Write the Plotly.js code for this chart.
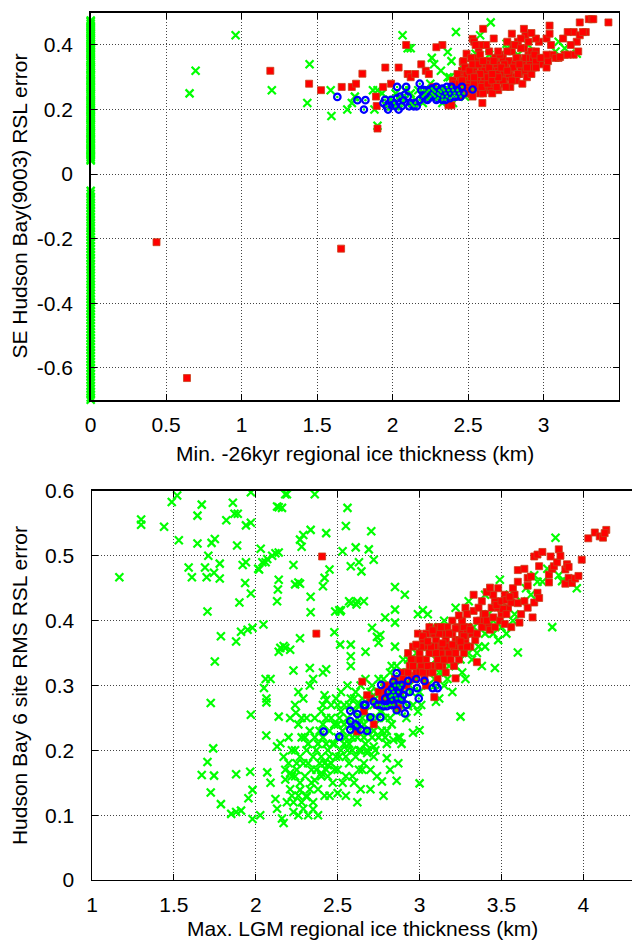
<!DOCTYPE html>
<html><head><meta charset="utf-8">
<script src="https://cdn.plot.ly/plotly-3.0.1.min.js"></script>
<style>html,body{margin:0;padding:0;background:#fff}#chart{width:632px;height:942px}</style>
</head><body><div id="chart"></div>
<script>
// ---------- tick labels ----------
const topXTicks=[0,0.5,1,1.5,2,2.5,3,3.5];
const topXTickText=["0","0.5","1","1.5","2","2.5","3","3.5"];
const topYTicks=[-0.6,-0.4,-0.2,0,0.2,0.4];
const topYTickText=["-0.6","-0.4","-0.2","0","0.2","0.4"];
const botXTicks=[1,1.5,2,2.5,3,3.5,4];
const botXTickText=["1","1.5","2","2.5","3","3.5","4"];
const botYTicks=[0,0.1,0.2,0.3,0.4,0.5,0.6];
const botYTickText=["0","0.1","0.2","0.3","0.4","0.5","0.6"];

const topXTitle="Min. -26kyr regional ice thickness (km)";
const topYTitle="SE Hudson Bay(9003) RSL error";
const botXTitle="Max. LGM regional ice thickness (km)";
const botYTitle="Hudson Bay 6 site RMS RSL error";

// ---------- top panel data ----------
// green models with zero minimum ice thickness (x = 0)
const topGreenZeroY=[0.042,0.047,0.053,0.058,0.064,0.07,0.075,0.081,0.088,0.093,0.099,0.106,0.111,0.117,0.124,0.129,0.135,0.141,0.148,0.153,0.159,0.166,0.172,0.177,0.183,0.19,0.196,0.201,0.207,0.214,0.22,0.226,0.231,0.238,0.244,0.249,0.255,0.262,0.268,0.273,0.279,0.286,0.291,0.297,0.304,0.309,0.315,0.322,0.327,0.333,0.339,0.346,0.351,0.357,0.364,0.37,0.375,0.381,0.388,0.394,0.399,0.405,0.412,0.418,0.423,0.429,0.436,0.441,0.447,0.453,0.459,0.465,0.471,0.476,
-0.052,-0.061,-0.07,-0.078,-0.088,-0.097,-0.105,-0.114,-0.124,-0.133,-0.141,-0.15,-0.16,-0.168,-0.177,-0.186,-0.195,-0.204,-0.213,-0.223,-0.232,-0.241,-0.25,-0.26,-0.268,-0.278,-0.287,-0.296,-0.305,-0.314,-0.324,-0.333,-0.342,-0.351,-0.36,-0.37,-0.379,-0.388,-0.397,-0.406,-0.416,-0.425,-0.434,-0.443,-0.452,-0.462,-0.471,-0.48,-0.49,-0.499,-0.508,-0.517,-0.527,-0.536,-0.545,-0.554,-0.563,-0.573,-0.582,-0.591,-0.6,-0.61,-0.619,-0.628,-0.637,-0.646,-0.656,-0.665,-0.674,-0.683,-0.692,-0.699];
const topGreen=[[0.96,0.43],[0.695,0.32],[0.655,0.25],[1.20,0.26],[1.45,0.34],[1.435,0.22],[1.595,0.18],[1.59,0.26],[1.70,0.20],[1.73,0.22],[1.75,0.24],[1.87,0.26],[1.90,0.26],[1.88,0.20],[1.90,0.15],[1.93,0.25],[1.98,0.23],[2.0,0.21],[2.02,0.25],[2.06,0.22],[2.066,0.43],[2.10,0.39],[2.12,0.39],[2.08,0.26],[2.12,0.25],[2.15,0.23],[2.17,0.26],[2.2,0.22],[2.26,0.36],[2.275,0.34],[2.32,0.32],[2.365,0.30],[2.365,0.378],[2.39,0.35],[2.38,0.30],[2.42,0.44],[2.33,0.22],[2.40,0.22],[2.47,0.34],[2.48,0.24],[2.545,0.36],[2.55,0.373],[2.58,0.43],[2.65,0.47],[2.64,0.37],[2.70,0.36],[2.755,0.404],[2.76,0.39],[2.83,0.37],[2.9,0.40],[3.08,0.38],[3.10,0.41],[3.14,0.39],[3.22,0.373],[2.5,0.30],[2.6,0.32],[2.8,0.33],[2.25,0.28],[2.28,0.26]];
const topRed=[[0.436,-0.211],[0.638,-0.632],[1.659,-0.231],[1.19,0.32],[1.447,0.28],[1.526,0.26],[1.663,0.27],[1.73,0.27],[1.758,0.28],[1.80,0.311],[1.895,0.211],[1.90,0.141],[1.89,0.24],[1.952,0.33],[2.04,0.33],[1.99,0.28],[1.937,0.27],[2.09,0.40],[2.10,0.31],[2.12,0.30],[2.15,0.31],[2.19,0.34],[2.22,0.32],[2.24,0.31],[2.33,0.40],[2.29,0.393],[2.27,0.27],[2.37,0.213],[2.39,0.213],[2.4,0.29],[2.41,0.28],[2.49,0.373],[2.465,0.347],[2.53,0.419],[2.60,0.45],[2.595,0.22],[2.57,0.389],
[2.42,0.26],[2.44,0.28],[2.45,0.30],[2.46,0.32],[2.47,0.27],[2.48,0.29],[2.49,0.31],[2.50,0.25],[2.50,0.33],[2.51,0.28],[2.52,0.30],[2.53,0.26],[2.54,0.32],[2.55,0.29],[2.55,0.34],[2.56,0.27],[2.57,0.31],[2.58,0.25],[2.58,0.29],[2.59,0.33],[2.60,0.28],[2.61,0.30],[2.62,0.26],[2.62,0.32],[2.63,0.35],[2.64,0.29],[2.65,0.27],[2.65,0.31],[2.66,0.33],[2.67,0.28],[2.68,0.30],[2.69,0.34],[2.70,0.26],[2.70,0.32],[2.71,0.29],[2.72,0.31],[2.73,0.36],[2.74,0.28],[2.75,0.33],[2.76,0.30],[2.77,0.35],[2.78,0.27],[2.78,0.32],[2.79,0.38],[2.80,0.30],[2.81,0.34],[2.82,0.29],[2.83,0.36],[2.84,0.31],[2.85,0.33],[2.86,0.28],[2.87,0.35],[2.88,0.32],[2.89,0.30],[2.90,0.37],[2.91,0.34],[2.92,0.31],[2.93,0.33],[2.47,0.35],[2.53,0.24],[2.60,0.25],[2.66,0.25],[2.74,0.34],[2.68,0.36],[2.62,0.34],[2.56,0.36],[2.45,0.26],[2.44,0.24],[2.52,0.36],[2.58,0.37],[2.64,0.38],[2.71,0.37],[2.76,0.38],[2.80,0.40],[2.87,0.39],
[2.43,0.31],[2.46,0.29],[2.48,0.33],[2.49,0.27],[2.51,0.32],[2.51,0.26],[2.53,0.34],[2.54,0.28],[2.56,0.30],[2.57,0.34],[2.59,0.27],[2.60,0.35],[2.61,0.32],[2.63,0.28],[2.63,0.30],[2.64,0.33],[2.66,0.29],[2.67,0.35],[2.69,0.27],[2.69,0.31],[2.72,0.33],[2.73,0.29],[2.75,0.27],[2.77,0.31],[2.79,0.29],[2.80,0.33],[2.82,0.36],[2.83,0.31],[2.86,0.34],[2.88,0.36],[2.89,0.33],[2.91,0.36],[2.70,0.30],[2.58,0.31],[2.54,0.30],[2.66,0.31],[2.76,0.32],[2.84,0.34],[2.92,0.38],[2.98,0.34],[3.0,0.36],[3.06,0.37],[3.10,0.36],[3.14,0.37],[3.20,0.37],[3.23,0.38],[3.28,0.44],[3.20,0.44],[2.97,0.41],[2.95,0.42],[2.88,0.43],[2.83,0.41],[2.76,0.41],[2.70,0.38],[2.62,0.40],[2.67,0.42],[2.58,0.40],
[2.79,0.435],[2.87,0.45],[2.92,0.437],[2.85,0.42],[2.90,0.41],[2.81,0.40],[2.85,0.39],[2.93,0.36],[2.95,0.38],[2.95,0.35],[2.94,0.37],[2.54,0.41],[2.55,0.40],[3.02,0.42],[3.04,0.435],[3.05,0.40],[3.04,0.46],[3.02,0.33],[3.03,0.35],[3.02,0.37],[3.08,0.36],[3.11,0.363],[3.16,0.37],[3.16,0.44],[3.13,0.42],[3.22,0.41],[3.24,0.43],[3.26,0.44],[3.24,0.47],[3.30,0.48],[3.32,0.48],[3.33,0.48],[3.43,0.47],[3.18,0.40],[2.95,0.33],[2.98,0.36]];
const topBlue=[[1.634,0.239],[1.767,0.229],[1.82,0.229],[1.81,0.20],[1.94,0.22],[1.96,0.21],[1.97,0.20],[2.03,0.27],[2.09,0.27],[2.04,0.20],[2.03,0.235],[2.07,0.23],[2.10,0.24],[2.14,0.21],[2.16,0.21],[2.18,0.28],[2.22,0.25],[2.24,0.26],[2.26,0.25],[2.29,0.27],[2.20,0.24],[2.23,0.23],[2.25,0.24],[2.27,0.26],[2.28,0.24],[2.30,0.25],[2.31,0.26],[2.33,0.24],[2.34,0.26],[2.29,0.23],[2.33,0.23],[2.36,0.24],[2.36,0.27],[2.38,0.25],[2.40,0.26],[2.42,0.24],[2.44,0.25],[2.46,0.27],[2.47,0.25],[2.53,0.262],[1.99,0.23],[2.01,0.22],[2.06,0.21],[2.12,0.22],[2.18,0.23],[2.21,0.26],[2.05,0.24],
[2.21,0.245],[2.23,0.255],[2.24,0.235],[2.26,0.265],[2.27,0.245],[2.28,0.255],[2.30,0.235],[2.31,0.245],[2.32,0.255],[2.33,0.265],[2.35,0.25],[2.37,0.26],[2.38,0.235],[2.39,0.27],[2.41,0.25],[2.43,0.26],[2.45,0.24],[2.13,0.215],[2.15,0.22],[2.11,0.21],[2.08,0.245],[2.02,0.21],[1.95,0.23],[2.19,0.26],[2.35,0.23],[2.40,0.24]];

// ---------- bottom panel data ----------
const botGreen=[[1.167,0.467],[1.30,0.548],[1.30,0.556],[1.44,0.545],[1.487,0.583],[1.52,0.593],[1.53,0.524],[1.644,0.562],[1.67,0.579],[1.644,0.519],[1.73,0.52],[1.75,0.526],[1.71,0.50],[1.78,0.488],[1.59,0.482],[1.61,0.467],[1.69,0.482],[1.70,0.467],[1.745,0.474],[1.78,0.465],[1.705,0.414],[1.86,0.582],[1.87,0.565],[1.89,0.565],[1.82,0.555],[1.97,0.598],[1.94,0.547],[1.97,0.551],[1.886,0.516],[1.94,0.49],[1.92,0.486],[1.935,0.458],[1.97,0.442],[1.90,0.428],[2.03,0.511],[2.02,0.479],[2.04,0.49],[2.07,0.495],[2.10,0.50],[2.14,0.505],[2.13,0.576],[2.16,0.574],[2.18,0.595],[2.13,0.43],[2.135,0.448],[2.14,0.463],[1.787,0.376],[1.88,0.368],[1.91,0.383],[1.95,0.386],[1.98,0.389],[2.047,0.394],[1.75,0.337],[2.15,0.358],[2.18,0.358],
[2.19,0.595],[2.36,0.595],[2.27,0.525],[2.29,0.532],[2.335,0.54],[2.43,0.535],[2.56,0.574],[2.55,0.546],[2.705,0.538],[2.53,0.507],[2.61,0.513],[2.69,0.51],[2.72,0.494],[2.63,0.49],[2.645,0.476],[2.58,0.484],[2.66,0.43],[2.615,0.425],[2.58,0.427],[2.51,0.416],[2.52,0.416],[2.45,0.479],[2.42,0.466],[2.41,0.453],[2.335,0.437],[2.335,0.413],[2.23,0.486],[2.24,0.456],[2.26,0.459],[2.27,0.457],[2.06,0.49],[2.12,0.504],[2.28,0.514],[2.14,0.575],[2.015,0.48],[2.14,0.352],[2.17,0.361],[2.21,0.355],[2.27,0.373],[2.485,0.414],[2.515,0.414],[2.48,0.382],[2.57,0.43],[2.62,0.43],[2.515,0.363],[2.58,0.33],[2.58,0.345],[2.58,0.363],[2.67,0.352],[2.71,0.389],[2.74,0.375],[2.75,0.366],[2.79,0.405],[2.85,0.397],[2.85,0.417],[2.85,0.452],[2.91,0.44],[2.99,0.41],[3.02,0.416],[3.05,0.41],
[2.23,0.323],[2.33,0.327],[2.41,0.32],[2.43,0.325],[2.06,0.31],[2.09,0.31],[2.05,0.296],[2.065,0.274],[2.065,0.28],[2.14,0.252],[2.24,0.27],[2.26,0.29],[2.29,0.28],[2.33,0.30],[2.35,0.31],[2.41,0.27],[2.42,0.285],[2.43,0.278],[1.725,0.273],[1.97,0.255],[2.21,0.25],[2.245,0.258],[2.31,0.25],[2.40,0.26],[2.50,0.27],
[1.74,0.203],[1.705,0.182],[1.745,0.161],[1.67,0.162],[1.88,0.163],[1.966,0.167],[1.98,0.139],[1.955,0.126],[1.725,0.135],[1.787,0.117],[1.85,0.102],[1.88,0.105],[1.91,0.107],[1.98,0.094],[2.027,0.10],[2.064,0.223],[2.13,0.206],[2.15,0.211],[2.07,0.166],[2.09,0.15],[2.12,0.125],[2.13,0.11],[2.16,0.095],[2.17,0.088],
[2.20,0.18],[2.21,0.14],[2.22,0.16],[2.23,0.12],[2.24,0.20],[2.25,0.17],[2.26,0.13],[2.27,0.19],[2.27,0.15],[2.28,0.22],[2.29,0.11],[2.30,0.16],[2.31,0.20],[2.31,0.13],[2.32,0.18],[2.33,0.23],[2.34,0.15],[2.35,0.12],[2.35,0.19],[2.36,0.25],[2.37,0.17],[2.38,0.21],[2.38,0.14],[2.39,0.23],[2.40,0.19],[2.40,0.16],[2.41,0.22],[2.42,0.13],[2.42,0.18],[2.43,0.25],[2.44,0.20],[2.44,0.16],[2.45,0.23],[2.46,0.18],[2.46,0.27],[2.47,0.21],[2.47,0.15],[2.48,0.24],[2.49,0.19],[2.49,0.28],[2.50,0.22],[2.50,0.17],[2.51,0.25],[2.52,0.20],[2.52,0.29],[2.53,0.23],[2.53,0.15],[2.54,0.27],[2.55,0.19],[2.55,0.22],[2.56,0.25],[2.56,0.30],[2.57,0.18],[2.57,0.21],[2.58,0.24],[2.58,0.28],[2.59,0.16],[2.59,0.20],[2.60,0.26],[2.60,0.23],[2.61,0.29],[2.61,0.19],[2.62,0.22],[2.62,0.27],[2.63,0.17],[2.63,0.24],[2.64,0.30],[2.64,0.20],[2.65,0.25],[2.65,0.28],[2.66,0.22],[2.66,0.18],[2.67,0.26],[2.67,0.31],[2.68,0.23],[2.68,0.20],[2.69,0.28],[2.70,0.25],[2.70,0.17],[2.71,0.22],[2.71,0.30],[2.72,0.27],[2.73,0.24],[2.73,0.20],[2.74,0.29],[2.75,0.22],[2.75,0.31],[2.76,0.26],[2.77,0.23],[2.78,0.28],[2.79,0.25],[2.80,0.30],[2.80,0.21],[2.81,0.27],[2.82,0.32],[2.83,0.24],[2.84,0.29],[2.86,0.26],[2.87,0.31],[2.88,0.22],[2.90,0.28],[2.92,0.25],[2.94,0.30],[2.96,0.27],
[2.84,0.216],[2.87,0.22],[2.72,0.206],[2.77,0.152],[2.80,0.188],[2.82,0.17],[2.87,0.18],[2.65,0.17],[2.68,0.196],[2.72,0.19],[2.50,0.134],[2.55,0.16],[2.60,0.15],[2.64,0.14],[2.35,0.109],[2.31,0.128],[2.36,0.154],[2.40,0.165],[2.44,0.177],[2.27,0.139],[2.25,0.18],[2.21,0.165],[2.19,0.12],[2.18,0.155],[2.20,0.22],[2.17,0.19],[2.23,0.105],[2.26,0.10],[2.33,0.14],[2.45,0.13],[2.38,0.10],[2.55,0.13],[2.62,0.12],[2.70,0.14],[2.78,0.13],[2.74,0.16],
[2.32,0.21],[2.34,0.17],[2.36,0.22],[2.37,0.20],[2.39,0.18],[2.41,0.24],[2.43,0.21],[2.43,0.17],[2.45,0.19],[2.46,0.25],[2.48,0.21],[2.48,0.17],[2.50,0.24],[2.51,0.19],[2.52,0.26],[2.54,0.21],[2.54,0.24],[2.56,0.20],[2.57,0.27],[2.59,0.22],[2.60,0.28],[2.62,0.25],[2.63,0.20],[2.64,0.27],[2.66,0.24],[2.67,0.21],[2.69,0.25],[2.70,0.29],[2.72,0.23],[2.73,0.28],[2.74,0.25],[2.76,0.29],[2.77,0.26],[2.78,0.31],[2.79,0.22],[2.81,0.30],[2.82,0.25],[2.83,0.33],[2.85,0.27],[2.86,0.33],[2.88,0.27],[2.89,0.32],[2.91,0.29],[2.93,0.34],[2.95,0.29],[2.97,0.31],[2.99,0.33],[3.02,0.34],[3.06,0.33],[3.09,0.31],[3.14,0.32],[3.17,0.31],[3.22,0.33],[3.26,0.32],[3.32,0.34],[3.35,0.35],[3.40,0.36],[3.45,0.38],[3.50,0.39],[3.53,0.38],[3.57,0.40],[3.62,0.43],[3.68,0.44],[3.72,0.46],[3.78,0.48],[3.85,0.47],[3.90,0.46],[2.28,0.25],[2.30,0.22],[2.26,0.24],[2.22,0.20],[2.24,0.16],[2.29,0.18],[2.28,0.12],[2.32,0.10],[2.18,0.17],[2.22,0.13],
[3.83,0.528],[3.81,0.39],[3.60,0.351],[3.46,0.327],[3.49,0.463],[3.96,0.45],[3.87,0.461],[3.0,0.149],[2.86,0.153],[3.25,0.252],[2.85,0.36],[2.76,0.378],[3.10,0.275],[2.99,0.26],[3.00,0.29],[3.01,0.27],[2.80,0.23],[2.89,0.21],[2.96,0.227],[3.0,0.231],[2.93,0.268],[3.05,0.30],[3.12,0.32],[3.15,0.30],[3.18,0.33],[3.20,0.35],[3.25,0.34],[3.28,0.37],[3.30,0.35],[3.33,0.39],[3.36,0.36],[3.40,0.38],[3.42,0.41],[3.45,0.40],[3.50,0.42],[3.55,0.44],[3.58,0.41],[3.65,0.45],[3.70,0.47],[3.75,0.46],[3.10,0.34],[3.05,0.36],[2.95,0.33],[2.98,0.35],[3.08,0.39],[3.15,0.40],[3.22,0.42],[3.30,0.43],[3.40,0.44],[3.48,0.37],[3.38,0.33],[3.28,0.31],[3.20,0.29],[3.12,0.28],[2.90,0.34],[2.92,0.32],[2.88,0.30]];
const botRed=[[2.405,0.499],[2.37,0.38],[3.35,0.336],[3.22,0.311],[3.09,0.282],[2.65,0.306],[2.96,0.315],[2.99,0.322],[2.62,0.229],[2.66,0.26],[2.70,0.28],[2.74,0.27],[2.78,0.29],[2.80,0.28],[2.82,0.30],[2.85,0.31],[2.88,0.29],[2.90,0.32],[2.92,0.30],[2.94,0.33],[2.95,0.31],[2.68,0.285],[2.75,0.29],[2.84,0.275],[2.87,0.265],[2.72,0.24],
[2.97,0.34],[2.98,0.32],[3.00,0.35],[3.01,0.33],[3.02,0.37],[3.03,0.31],[3.04,0.34],[3.05,0.36],[3.06,0.32],[3.07,0.38],[3.08,0.35],[3.09,0.33],[3.10,0.37],[3.11,0.34],[3.12,0.36],[3.13,0.39],[3.14,0.33],[3.15,0.35],[3.16,0.37],[3.17,0.34],[3.18,0.38],[3.19,0.36],[3.20,0.40],[3.21,0.35],[3.22,0.37],[3.23,0.39],[3.24,0.34],[3.25,0.36],[3.26,0.38],[3.27,0.35],[3.28,0.37],[3.30,0.39],[3.31,0.36],[3.03,0.36],[3.06,0.35],[3.09,0.36],[3.12,0.33],[3.15,0.38],[3.18,0.35],[3.21,0.33],[3.13,0.35],[3.07,0.33],[3.00,0.32],[3.04,0.30],[3.11,0.31],[3.16,0.32],[2.93,0.35],[2.96,0.36],[2.99,0.38],
[2.90,0.31],[2.93,0.32],[2.95,0.34],[2.97,0.31],[3.00,0.34],[3.01,0.36],[3.02,0.32],[3.04,0.38],[3.05,0.33],[3.06,0.39],[3.08,0.32],[3.09,0.38],[3.10,0.35],[3.11,0.39],[3.12,0.38],[3.14,0.36],[3.15,0.34],[3.17,0.36],[3.17,0.39],[3.19,0.34],[3.19,0.38],[3.21,0.36],[3.22,0.35],[3.24,0.37],[3.26,0.36],[3.27,0.39],[3.29,0.38],[3.29,0.36],[3.32,0.38],[3.34,0.37],[3.35,0.38],[3.37,0.40],[3.39,0.41],[3.42,0.39],[3.44,0.42],[3.46,0.43],[3.50,0.41],[3.54,0.42],[3.57,0.45],[3.58,0.44],[3.52,0.44],[3.45,0.44],[3.38,0.43],[3.26,0.40],[3.28,0.42],[3.20,0.38],[3.07,0.36],[2.96,0.33],[2.91,0.30],[2.86,0.30],[2.83,0.29],[2.79,0.30],[2.77,0.28],
[3.02,0.376],[3.08,0.385],[3.13,0.39],[3.18,0.38],[3.22,0.388],[3.27,0.376],[2.98,0.363],[3.05,0.368],[3.14,0.365],[3.20,0.363],[3.25,0.368],[3.24,0.408],[3.29,0.41],[3.33,0.415],[3.36,0.42],[3.40,0.41],[3.31,0.386],[3.35,0.40],[3.38,0.39],[3.41,0.40],[3.43,0.386],[3.46,0.39],[3.49,0.40],[3.52,0.395],[3.56,0.39],[3.61,0.397],[3.69,0.405],[3.45,0.405],[3.48,0.42],[3.51,0.418],[3.53,0.41],[3.47,0.424],[3.50,0.43],[3.53,0.432],[3.56,0.428],[3.33,0.44],[3.41,0.444],[3.43,0.451],[3.48,0.45],[3.55,0.437],[3.60,0.427],[3.64,0.43],[3.62,0.41],[3.66,0.42],[3.70,0.428],[3.72,0.443],[3.73,0.435],[3.60,0.46],[3.66,0.454],[3.66,0.466],[3.68,0.468],[3.60,0.478],[3.64,0.48],[3.70,0.499],[3.72,0.502],[3.75,0.506],[3.73,0.484],[3.79,0.459],[3.79,0.471],[3.81,0.48],[3.82,0.484],[3.80,0.499],[3.84,0.49],[3.85,0.51],[3.86,0.50],[3.89,0.479],[3.90,0.487],[3.91,0.483],[3.89,0.457],[3.91,0.466],[3.93,0.458],[3.95,0.465],[3.97,0.469],[3.99,0.494],[4.03,0.527],[4.07,0.536],[4.10,0.53],[4.12,0.528],[4.14,0.54],[4.13,0.535]];
const botBlue=[[2.414,0.229],[2.51,0.221],[2.577,0.232],[2.577,0.245],[2.577,0.261],[2.62,0.256],[2.62,0.237],[2.64,0.232],[2.68,0.23],[2.61,0.24],[2.66,0.27],[2.67,0.27],[2.70,0.251],[2.72,0.275],[2.74,0.27],[2.76,0.27],[2.76,0.251],[2.765,0.301],[2.78,0.268],[2.80,0.268],[2.82,0.283],[2.83,0.278],[2.84,0.27],[2.85,0.285],[2.84,0.306],[2.86,0.319],[2.88,0.297],[2.89,0.301],[2.86,0.262],[2.89,0.278],[2.91,0.257],[2.92,0.27],[2.93,0.307],[2.98,0.31],[3.03,0.307],[2.94,0.29],[2.985,0.296],[2.995,0.28],[3.08,0.296],[3.10,0.30],[3.11,0.296],[2.81,0.29],[2.87,0.29],[2.83,0.295],[2.90,0.285],[2.79,0.28],[2.82,0.27],[2.84,0.29],[2.86,0.28],[2.87,0.30],[2.88,0.28],[2.85,0.30],[2.83,0.285]];

// ---------- styling ----------
const GREEN='#00ff00', RED='#ff0000', BLUE='#0000ff';
const FONT='Liberation Sans, Arial, Helvetica, sans-serif';
const xs=a=>a.map(p=>p[0]), ys=a=>a.map(p=>p[1]);

function greenTrace(x,y,xa,ya,clip){return {type:'scatter',mode:'markers',x:x,y:y,xaxis:xa,yaxis:ya,cliponaxis:clip,
  marker:{symbol:'x-thin-open',size:8,color:GREEN,line:{color:GREEN,width:2.2}},hoverinfo:'skip',showlegend:false};}
function redTrace(a,xa,ya){return {type:'scatter',mode:'markers',x:xs(a),y:ys(a),xaxis:xa,yaxis:ya,
  marker:{symbol:'square',size:7,color:RED,line:{color:'#c8401a',width:0.8}},hoverinfo:'skip',showlegend:false};}
function blueTraces(a,xa,ya){return [
  {type:'scatter',mode:'markers',x:xs(a),y:ys(a),xaxis:xa,yaxis:ya,
   marker:{symbol:'circle-open',size:6.5,color:BLUE,line:{color:BLUE,width:2.2}},hoverinfo:'skip',showlegend:false},
  {type:'scatter',mode:'markers',x:xs(a),y:ys(a),xaxis:xa,yaxis:ya,
   marker:{symbol:'circle',size:2.5,color:GREEN,line:{width:0}},hoverinfo:'skip',showlegend:false}];}

const data=[
  greenTrace(topGreenZeroY.map(()=>0),topGreenZeroY,'x','y',false),
  greenTrace(xs(topGreen),ys(topGreen),'x','y',true),
  redTrace(topRed,'x','y'),
  ...blueTraces(topBlue,'x','y'),
  greenTrace(xs(botGreen),ys(botGreen),'x2','y2',true),
  redTrace(botRed,'x2','y2'),
  ...blueTraces(botBlue,'x2','y2')
];

const axCommon={showgrid:true,gridcolor:'#444',griddash:'1px,2px',gridwidth:1,zeroline:false,
  showline:true,linecolor:'#000',linewidth:1.5,ticks:'inside',ticklen:6,tickwidth:1,tickcolor:'#000',
  tickfont:{family:FONT,size:21,color:'#000'},tickmode:'array',fixedrange:true};

const layout={
  width:632,height:942,margin:{l:0,r:0,t:0,b:0},paper_bgcolor:'#fff',plot_bgcolor:'#fff',
  font:{family:FONT,size:21,color:'#000'},showlegend:false,
  xaxis:Object.assign({},axCommon,{domain:[0.14351,0.97943],range:[0,3.5],tickvals:topXTicks,ticktext:topXTickText,mirror:'ticks',anchor:'y',ticklabelstandoff:5}),
  yaxis:Object.assign({},axCommon,{domain:[0.57537,0.98652],range:[-0.7,0.5],tickvals:topYTicks,ticktext:topYTickText,mirror:'ticks',anchor:'x',ticklabelstandoff:12}),
  xaxis2:Object.assign({},axCommon,{domain:[0.14557,1],range:[1,4.297],tickvals:botXTicks,ticktext:botXTickText,mirror:'ticks',anchor:'y2',ticklabelstandoff:5}),
  yaxis2:Object.assign({},axCommon,{domain:[0.06582,0.47877],range:[0,0.6],tickvals:botYTicks,ticktext:botYTickText,mirror:false,anchor:'x2',ticklabelstandoff:12}),
  annotations:[
    {text:topXTitle,xref:'paper',yref:'paper',x:354.9/632,y:(942-453)/942,xanchor:'center',yanchor:'middle',showarrow:false,font:{family:FONT,size:21}},
    {text:botXTitle,xref:'paper',yref:'paper',x:362/632,y:1/942,xanchor:'center',yanchor:'bottom',showarrow:false,borderpad:0,font:{family:FONT,size:21}},
    {text:topYTitle,xref:'paper',yref:'paper',x:19.6/632,y:(942-206)/942,xanchor:'center',yanchor:'middle',textangle:-90,showarrow:false,font:{family:FONT,size:21}},
    {text:botYTitle,xref:'paper',yref:'paper',x:19.6/632,y:(942-685.5)/942,xanchor:'center',yanchor:'middle',textangle:-90,showarrow:false,font:{family:FONT,size:21}}
  ]
};
Plotly.newPlot('chart',data,layout,{staticPlot:true,displayModeBar:false});
</script></body></html>
